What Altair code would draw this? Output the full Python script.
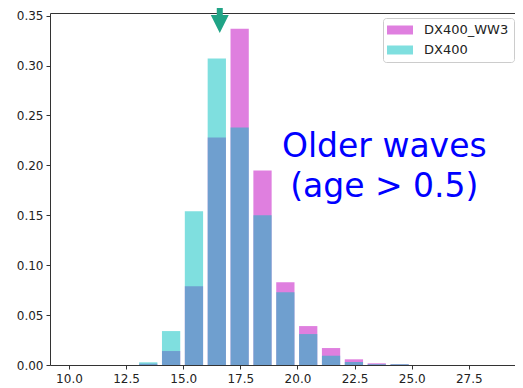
import altair as alt
import pandas as pd

# ---- data ----
bin_start = [13, 14, 15, 16, 17, 18, 19, 20, 21, 22, 23, 24]
dx400_ww3 = [0.0013, 0.014, 0.079, 0.228, 0.337, 0.195, 0.083, 0.039, 0.017, 0.0057, 0.0017, 0.0008]
dx400 = [0.0027, 0.034, 0.154, 0.307, 0.238, 0.150, 0.073, 0.031, 0.0093, 0.003, 0.0008, 0.0008]
series_names = ["DX400_WW3", "DX400"]
series_colors = ["#bf00bf", "#00bfbf"]
x_ticks = [10.0, 12.5, 15.0, 17.5, 20.0, 22.5, 25.0, 27.5]
y_ticks = [0.0, 0.05, 0.10, 0.15, 0.20, 0.25, 0.30, 0.35]
note_lines = ["Older waves", "(age > 0.5)"]
note_x = [23.8, 23.8]
note_y = [0.2084, 0.1685]
arrow_x = [16.6]

bar_offset = 0.07
bar_width = 0.8

rows = []
for k, a, b in zip(bin_start, dx400_ww3, dx400):
    rows.append({"left": k + bar_offset, "right": k + bar_offset + bar_width,
                 "series": series_names[0], "value": a})
    rows.append({"left": k + bar_offset, "right": k + bar_offset + bar_width,
                 "series": series_names[1], "value": b})
df = pd.DataFrame(rows)

notes = pd.DataFrame({"text": note_lines, "x": note_x, "y": note_y})
arrow = pd.DataFrame({"x": arrow_x})

xscale = alt.Scale(domain=[9.17, 29.52], nice=False, zero=False)
yscale = alt.Scale(domain=[0, 0.3527], nice=False)
cscale = alt.Scale(domain=series_names, range=series_colors)

xaxis = alt.Axis(values=x_ticks, format=".1f", title=None, grid=False)
yaxis = alt.Axis(values=y_ticks, format=".2f", title=None, grid=False)

legend = alt.Legend(
    title=None, orient="none", legendX=333, legendY=5,
    symbolType="M-1.143,-0.643H2.571V0.643H-1.143Z", symbolSize=196,
    symbolOpacity=0.5, symbolStrokeWidth=0,
    labelOffset=22, rowPadding=6, padding=5,
    strokeColor="#cccccc", fillColor="white", cornerRadius=3,
    labelFontSize=13, labelFont="DejaVu Sans", labelColor="#222222",
)

base = alt.Chart(df)

ww3_bars = base.transform_filter(alt.datum.series == series_names[0]).mark_rect(opacity=0.5).encode(
    x=alt.X("left:Q", scale=xscale, axis=xaxis),
    x2="right:Q",
    y=alt.Y("value:Q", scale=yscale, axis=yaxis),
    y2=alt.datum(0),
    color=alt.Color("series:N", scale=cscale, legend=legend),
)

dx_bars = base.transform_filter(alt.datum.series == series_names[1]).mark_rect(opacity=0.5).encode(
    x=alt.X("left:Q", scale=xscale, axis=xaxis),
    x2="right:Q",
    y=alt.Y("value:Q", scale=yscale, axis=yaxis),
    y2=alt.datum(0),
    color=alt.Color("series:N", scale=cscale, legend=legend),
)

text = alt.Chart(notes).mark_text(
    fontSize=33, font="DejaVu Sans", color="#0000ff", align="center", baseline="alphabetic"
).encode(
    x=alt.X("x:Q", scale=xscale),
    y=alt.Y("y:Q", scale=yscale),
    text="text:N",
)

arrow_shaft = alt.Chart(arrow).mark_rule(color="#20a486", strokeWidth=6).encode(
    x=alt.X("x:Q", scale=xscale),
    y=alt.value(-5),
    y2=alt.value(3),
)
arrow_head = alt.Chart(arrow).mark_point(
    shape="M-1,-1H1L0,1Z", size=324, filled=True, opacity=1, color="#20a486", strokeWidth=0
).encode(
    x=alt.X("x:Q", scale=xscale),
    y=alt.value(11),
)

chart = alt.layer(ww3_bars, dx_bars, text, arrow_shaft, arrow_head).properties(
    width=465, height=352,
    autosize=alt.AutoSizeParams(type="none"),
    padding={"left": 42, "top": 5, "right": 0, "bottom": 20},
).configure_view(
    stroke="#333333", strokeWidth=1
).configure_axis(
    domain=False, tickColor="#333333", tickSize=4, tickWidth=1,
    labelFont="DejaVu Sans", labelFontSize=12, labelColor="#222222", labelPadding=3,
).configure_axisX(
    labelPadding=4
)

chart.save("out.html", embed_options={"renderer": "svg", "actions": False})
